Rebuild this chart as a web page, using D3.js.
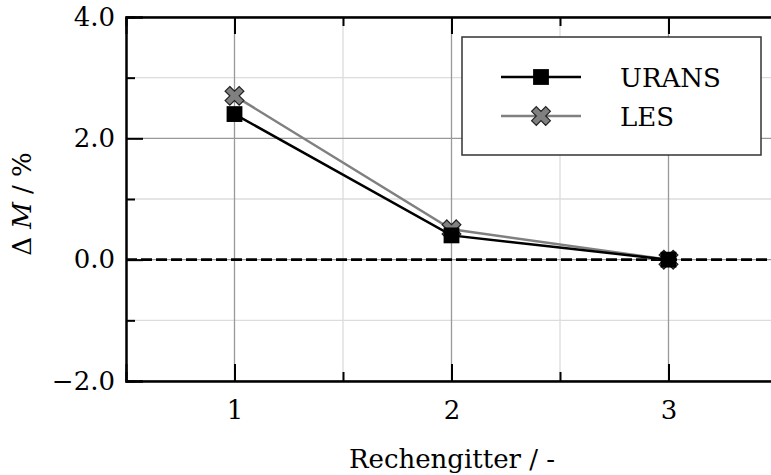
<!DOCTYPE html>
<html><head><meta charset="utf-8">
<script src="https://cdn.jsdelivr.net/npm/d3@7"></script>
<style>body{margin:0;background:#fff}svg{display:block}</style>
</head><body>
<script>
const grids = [1, 2, 3];
const gridLabels = ["1", "2", "3"];
const urans = [2.4, 0.4, 0.0];
const les = [2.7, 0.5, 0.0];
const yTicks = [-2, 0, 2, 4];
const yMinor = [-1, 1, 3];
const xMinor = [1.5, 2.5];
const seriesNames = ["URANS", "LES"];

const W = 771, H = 475;
const FONT = "DejaVu Serif";
const FS = 26;
const svg = d3.select("body").append("svg").attr("width", W).attr("height", H);
const x = d3.scaleLinear().domain([0.5, 3.5]).range([126, 777]);
const y = d3.scaleLinear().domain([-2, 4]).range([381, 17]);
const L = 126, R = 777, T = 17, B = 381;

// grid
const g = svg.append("g");
g.selectAll(".vmin").data(xMinor).join("line").attr("x1", d => x(d)).attr("x2", d => x(d)).attr("y1", T).attr("y2", B).attr("stroke", "#dcdcdc").attr("stroke-width", 1.3);
g.selectAll(".hmin").data(yMinor).join("line").attr("y1", d => y(d)).attr("y2", d => y(d)).attr("x1", L).attr("x2", R).attr("stroke", "#dcdcdc").attr("stroke-width", 1.3);
g.selectAll(".vmaj").data(grids).join("line").attr("x1", d => x(d)).attr("x2", d => x(d)).attr("y1", T).attr("y2", B).attr("stroke", "#999").attr("stroke-width", 1.3);
g.selectAll(".hmaj").data(yTicks).join("line").attr("y1", d => y(d)).attr("y2", d => y(d)).attr("x1", L).attr("x2", R).attr("stroke", "#999").attr("stroke-width", 1.3);

// zero dashed line
svg.append("line").attr("x1", L).attr("x2", R).attr("y1", y(0)).attr("y2", y(0))
  .attr("stroke", "#000").attr("stroke-width", 2.6).attr("stroke-dasharray", "11,4");

// axes with inward ticks
const ax = svg.append("g");
const xb = d3.axisBottom(x).tickValues(grids).tickSize(-17).tickFormat((d, i) => gridLabels[i]).tickPadding(20);
const xbMin = d3.axisBottom(x).tickValues(xMinor).tickSize(-9).tickFormat("");
const xt = d3.axisTop(x).tickValues(grids).tickSize(-17).tickFormat("");
const xtMin = d3.axisTop(x).tickValues(xMinor).tickSize(-9).tickFormat("");
const yl = d3.axisLeft(y).tickValues(yTicks).tickSize(-17).tickFormat(d => (d < 0 ? "\u2212" : "") + Math.abs(d).toFixed(1)).tickPadding(11);
const ylMin = d3.axisLeft(y).tickValues(yMinor).tickSize(-9).tickFormat("");
function style(sel){
  sel.selectAll("path").attr("stroke", "#000").attr("stroke-width", 2);
  sel.selectAll("line").attr("stroke", "#000").attr("stroke-width", 2);
  sel.selectAll("text").attr("font-family", FONT).attr("font-size", FS).attr("fill", "#000");
}
style(ax.append("g").attr("transform", `translate(0,${B})`).call(xbMin));
style(ax.append("g").attr("transform", `translate(0,${B})`).call(xb));
style(ax.append("g").attr("transform", `translate(0,${T})`).call(xtMin));
style(ax.append("g").attr("transform", `translate(0,${T})`).call(xt));
style(ax.append("g").attr("transform", `translate(${L},0)`).call(ylMin));
style(ax.append("g").attr("transform", `translate(${L},0)`).call(yl));

// axis titles
svg.append("text").attr("x", 452).attr("y", 468).attr("text-anchor", "middle")
  .attr("font-family", FONT).attr("font-size", FS).text("Rechengitter / -");
const yt = svg.append("text").attr("transform", "translate(31,204) rotate(-90)").attr("text-anchor", "middle")
  .attr("font-family", FONT).attr("font-size", FS);
yt.append("tspan").text("\u0394 ");
yt.append("tspan").attr("font-style", "italic").text("M");
yt.append("tspan").text(" / %");

// series
const line = d3.line().x((d, i) => x(grids[i])).y(d => y(d));
const cross = d3.symbol().type(d3.symbolCross).size(220);
const square = d3.symbol().type(d3.symbolSquare).size(250);

svg.append("path").datum(les).attr("d", line).attr("fill", "none").attr("stroke", "#808080").attr("stroke-width", 2.5);
svg.append("path").datum(urans).attr("d", line).attr("fill", "none").attr("stroke", "#000").attr("stroke-width", 2.5);
svg.selectAll(".lesm").data(les).join("path").attr("d", cross)
  .attr("transform", (d, i) => `translate(${x(grids[i])},${y(d)}) rotate(45)`)
  .attr("fill", "#808080").attr("stroke", "#222").attr("stroke-width", 1.2);
svg.selectAll(".uransm").data(urans).join("path").attr("d", square)
  .attr("transform", (d, i) => `translate(${x(grids[i])},${y(d)})`)
  .attr("fill", "#000");

// legend
const lg = svg.append("g");
lg.append("rect").attr("x", 462).attr("y", 37).attr("width", 299).attr("height", 118)
  .attr("fill", "#fff").attr("stroke", "#333").attr("stroke-width", 1.5);
const items = [
  {name: seriesNames[0], color: "#000", sym: square, rot: 0, fill: "#000", stroke: "none"},
  {name: seriesNames[1], color: "#808080", sym: cross, rot: 45, fill: "#808080", stroke: "#222"}
];
items.forEach((it, i) => {
  const yy = 77 + i * 39;
  lg.append("line").attr("x1", 501).attr("x2", 581).attr("y1", yy).attr("y2", yy).attr("stroke", it.color).attr("stroke-width", 2.5);
  lg.append("path").attr("d", it.sym).attr("transform", `translate(541,${yy}) rotate(${it.rot})`)
    .attr("fill", it.fill).attr("stroke", it.stroke).attr("stroke-width", 1.2);
  lg.append("text").attr("x", 620).attr("y", yy + 10).attr("font-family", FONT).attr("font-size", FS).text(it.name);
});
</script>
</body></html>
